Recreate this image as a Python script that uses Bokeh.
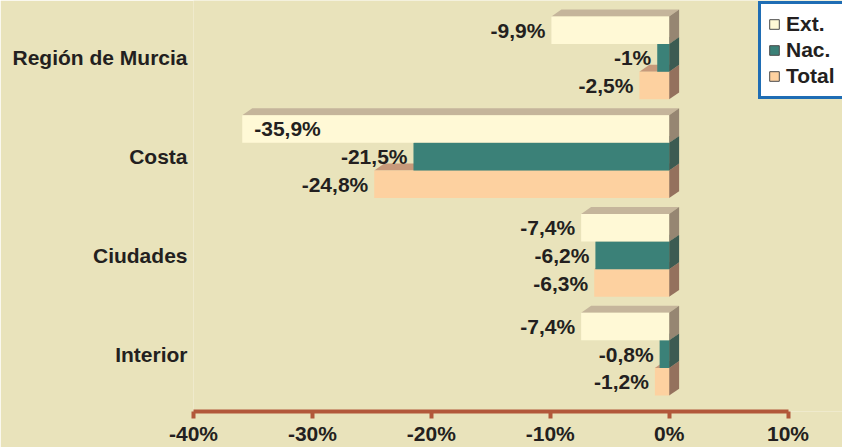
from bokeh.plotting import figure
from bokeh.models import (ColumnDataSource, Range1d, FixedTicker, PrintfTickFormatter,
                          Legend, LegendItem)
from bokeh.core.properties import value
from bokeh.embed import file_html
from bokeh.resources import INLINE

# ---------------- data ----------------
regions = ["Región de Murcia", "Costa", "Ciudades", "Interior"]
series_names = ["Ext.", "Nac.", "Total"]
ext_vals = [-9.9, -35.9, -7.4, -7.4]
nac_vals = [-1.0, -21.5, -6.2, -0.8]
total_vals = [-2.5, -24.8, -6.3, -1.2]
x_ticks = [-40, -30, -20, -10, 0, 10]

# ---------------- style ----------------
BG = "#E9E3BB"
TXT = "#231F20"
FONT = value("Liberation Sans")
FS = "21px"
front_col = ["#FFF9D6", "#3B8178", "#FDD1A0"]
top_col = ["#C5B59B", "#3F6F64", "#C7997A"]
side_col = ["#968672", "#3C5B52", "#94715D"]

H = 0.28     # bar thickness (group units)
DX = 0.84    # 3-D depth along x (percent units)
DY = 0.07    # 3-D depth along y (group units)

p = figure(width=842, height=447, output_backend="svg", toolbar_location=None, tools="",
           x_range=Range1d(-40, 14.58), y_range=Range1d((412 - 57.5) / 99, (0 - 57.5) / 99),
           min_border_left=193, min_border_right=0, min_border_top=0, min_border_bottom=35)
p.background_fill_color = BG
p.border_fill_color = BG
p.outline_line_color = None
p.xgrid.visible = False
p.ygrid.visible = False

all_vals = [ext_vals, nac_vals, total_vals]
# draw bottom series first so upper bars cover hidden faces
for s in [2, 1, 0]:
    vals = all_vals[s]
    tops, bots, txs, tys, sxs, sys_ = [], [], [], [], [], []
    for i, v in enumerate(vals):
        yt = i - 1.5 * H + s * H
        yb = yt + H
        tops.append(yt)
        bots.append(yb)
        txs.append([v, 0, DX, v + DX])
        tys.append([yt, yt, yt - DY, yt - DY])
        sxs.append([0, DX, DX, 0])
        sys_.append([yt, yt - DY, yb - DY, yb])
    p.patches(xs=txs, ys=tys, fill_color=top_col[s], line_color=None)
    p.patches(xs=sxs, ys=sys_, fill_color=side_col[s], line_color=None)
    src = ColumnDataSource(dict(left=vals, right=[0] * len(vals), top=tops, bottom=bots))
    p.quad(left="left", right="right", top="top", bottom="bottom",
           source=src, fill_color=front_col[s], line_color=None)

# value labels
lx, ly, lt, la, lo = [], [], [], [], []
for s in range(3):
    for i, v in enumerate(all_vals[s]):
        yc = i - 1.5 * H + s * H + H / 2
        lx.append(v)
        ly.append(yc)
        lt.append(f"{v:g}".replace(".", ",") + "%")
        if v < -30:
            la.append("left"); lo.append(12)
        else:
            la.append("right"); lo.append(-6)
lsrc = ColumnDataSource(dict(x=lx, y=ly, text=lt, align=la, off=lo))
p.text(x="x", y="y", text="text", source=lsrc, text_align="align", x_offset="off",
       text_baseline="middle", text_font=FONT, text_font_style="bold",
       text_font_size=FS, text_color=TXT)

# x axis
xa = p.xaxis[0]
xa.bounds = (-40, 10)
xa.ticker = FixedTicker(ticks=x_ticks)
xa.formatter = PrintfTickFormatter(format="%d%%")
xa.axis_line_color = "#B2583A"
xa.axis_line_width = 4
xa.major_tick_line_color = "#B2583A"
xa.major_tick_line_width = 4
xa.major_tick_out = 7
xa.major_tick_in = 0
xa.minor_tick_line_color = None
xa.major_label_standoff = 3
xa.major_label_text_font = "Liberation Sans"
xa.major_label_text_font_style = "bold"
xa.major_label_text_font_size = FS
xa.major_label_text_color = TXT

# y axis (category names)
ya = p.yaxis[0]
ya.ticker = FixedTicker(ticks=list(range(len(regions))))
ya.major_label_overrides = {i: r for i, r in enumerate(regions)}
ya.axis_line_color = None
ya.major_tick_line_color = None
ya.minor_tick_line_color = None
ya.major_tick_out = 0
ya.major_label_standoff = 6
ya.major_label_text_font = "Liberation Sans"
ya.major_label_text_font_style = "bold"
ya.major_label_text_font_size = FS
ya.major_label_text_color = TXT

# legend proxies (outlined squares, not drawn in the plot)
nan = float("nan")
proxies = []
for s in range(3):
    r = p.quad(left=[nan], right=[nan], top=[nan], bottom=[nan], fill_color=front_col[s],
               line_color="#4A4A4A", line_width=1)
    proxies.append(r)
legend = Legend(items=[LegendItem(label=series_names[s], renderers=[proxies[s]]) for s in range(3)],
                location=(565, 312), orientation="vertical")
legend.background_fill_color = "white"
legend.background_fill_alpha = 1.0
legend.border_line_color = "#1F6DB4"
legend.border_line_alpha = 1.0
legend.border_line_width = 3
legend.glyph_width = 12
legend.glyph_height = 12
legend.label_height = 26
legend.label_standoff = 6
legend.spacing = 0
legend.padding = 7
legend.margin = 0
legend.label_text_font = "Liberation Sans"
legend.label_text_font_style = "bold"
legend.label_text_font_size = FS
legend.label_text_color = TXT
p.add_layout(legend, "center")

open("out.html", "w").write(file_html(p, INLINE))
